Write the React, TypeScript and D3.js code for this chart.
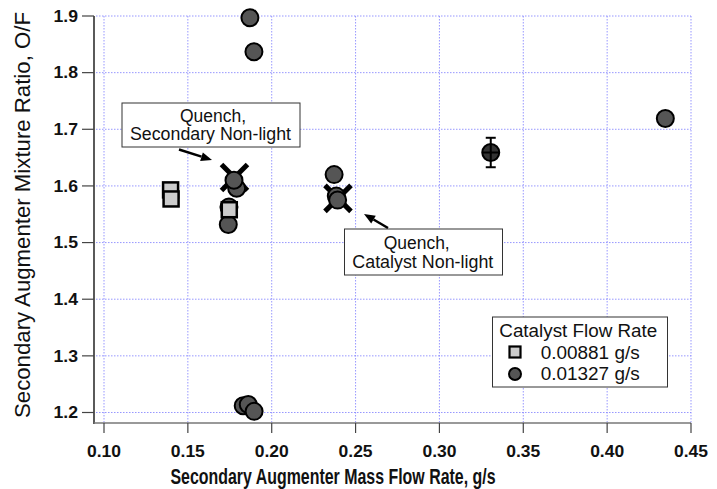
import React from "react";
import * as d3 from "d3";

const W = 717;
const H = 489;

const xTicks = [0.1, 0.15, 0.2, 0.25, 0.3, 0.35, 0.4, 0.45];
const yTicks = [1.2, 1.3, 1.4, 1.5, 1.6, 1.7, 1.8, 1.9];

// Catalyst flow 0.00881 g/s (squares)
const sqX = [0.1397, 0.14, 0.1747];
const sqY = [1.593, 1.577, 1.558];

// Catalyst flow 0.01327 g/s (circles)
const ciX = [0.187, 0.1894, 0.1791, 0.1775, 0.1745, 0.1741, 0.2372, 0.2385, 0.2393, 0.4347, 0.183, 0.186, 0.1895];
const ciY = [1.897, 1.837, 1.596, 1.61, 1.563, 1.532, 1.62, 1.582, 1.575, 1.719, 1.212, 1.214, 1.202];

// point with error bar
const ebX = [0.3306];
const ebY = [1.659];
const ebErr = [0.026];

// quench (non-light) markers
const qX = [0.1778, 0.2395];
const qY = [1.615, 1.578];

export default function App() {
  const x = d3.scaleLinear().domain([0.1, 0.45]).range([104, 691]);
  const y = d3.scaleLinear().domain([1.2, 1.9]).range([412.5, 16]);
  const grid = "#7f7fff";
  const font = "'Liberation Sans', Arial, sans-serif";
  const axY = 423;
  const axX = 94;

  const arrow = (x1: number, y1: number, x2: number, y2: number, key: string) => {
    const ang = Math.atan2(y2 - y1, x2 - x1);
    const hl = 11, hw = 4.5;
    const bx = x2 - hl * Math.cos(ang), by = y2 - hl * Math.sin(ang);
    const px = -Math.sin(ang) * hw, py = Math.cos(ang) * hw;
    return (
      <g key={key}>
        <line x1={x1} y1={y1} x2={bx} y2={by} stroke="#000" strokeWidth={2.5} />
        <path d={`M${x2},${y2}L${bx + px},${by + py}L${bx - px},${by - py}Z`} fill="#000" />
      </g>
    );
  };

  const T = (props: any) => <text lengthAdjust="spacingAndGlyphs" fill="#111" {...props} />;

  return (
    <svg width={W} height={H} style={{ position: "absolute", left: 0, top: 0, background: "#fff" }} fontFamily={font}>
      {/* grid */}
      {xTicks.map((t) => (
        <line key={"gx" + t} x1={x(t)} x2={x(t)} y1={16} y2={axY} stroke={grid} strokeWidth={1} strokeDasharray="1.5,1.5" opacity={0.8} />
      ))}
      {yTicks.map((t) => (
        <line key={"gy" + t} x1={axX + 2} x2={691} y1={y(t)} y2={y(t)} stroke={grid} strokeWidth={1} strokeDasharray="1.5,1.5" opacity={0.8} />
      ))}

      {/* axes */}
      <line x1={axX} x2={axX} y1={16} y2={axY + 1} stroke="#000" strokeWidth={1.3} />
      <line x1={axX} x2={691} y1={axY} y2={axY} stroke="#777" strokeWidth={1.3} />
      {yTicks.map((t) => (
        <g key={"yt" + t}>
          <line x1={axX - 12} x2={axX} y1={y(t)} y2={y(t)} stroke="#444" strokeWidth={1.2} />
          <T x={78} y={y(t) + 5.8} textAnchor="end" fontSize={16.5} fontWeight="bold" textLength={24.5}>
            {t.toFixed(1)}
          </T>
        </g>
      ))}
      {xTicks.map((t) => (
        <g key={"xt" + t}>
          <line x1={x(t)} x2={x(t)} y1={axY} y2={axY + 10} stroke="#444" strokeWidth={1.2} />
          <T x={x(t)} y={456.5} textAnchor="middle" fontSize={16.5} fontWeight="bold" textLength={34}>
            {t.toFixed(2)}
          </T>
        </g>
      ))}

      {/* axis titles */}
      <T x={333} y={483.5} textAnchor="middle" fontSize={21.5} fontWeight="bold" textLength={325}>
        Secondary Augmenter Mass Flow Rate, g/s
      </T>
      <T transform={`translate(30,215) rotate(-90)`} textAnchor="middle" fontSize={21.5} textLength={406}>
        Secondary Augmenter Mixture Ratio, O/F
      </T>

      {/* quench X markers */}
      {qX.map((v, i) => {
        const cx = x(v), cy = y(qY[i]), s = 13;
        return (
          <g key={"q" + i}>
            <line x1={cx - s} y1={cy - s} x2={cx + s} y2={cy + s} stroke="#000" strokeWidth={5} />
            <line x1={cx + s} y1={cy - s} x2={cx - s} y2={cy + s} stroke="#000" strokeWidth={5} />
          </g>
        );
      })}

      {/* circles */}
      {ciX.map((v, i) => (
        <circle key={"c" + i} cx={x(v)} cy={y(ciY[i])} r={8.5} fill="#555" stroke="#000" strokeWidth={2} />
      ))}

      {/* error bar point */}
      {ebX.map((v, i) => {
        const cx = x(v), cy = y(ebY[i]);
        const y1 = y(ebY[i] + ebErr[i]), y2 = y(ebY[i] - ebErr[i]);
        return (
          <g key={"eb" + i}>
            <circle cx={cx} cy={cy} r={8.5} fill="#333" stroke="#000" strokeWidth={2} />
            <line x1={cx} x2={cx} y1={y1} y2={y2} stroke="#000" strokeWidth={2} />
            <line x1={cx - 5} x2={cx + 5} y1={y1} y2={y1} stroke="#000" strokeWidth={2} />
            <line x1={cx - 5} x2={cx + 5} y1={y2} y2={y2} stroke="#000" strokeWidth={2} />
            <line x1={cx - 8.5} x2={cx + 8.5} y1={cy} y2={cy} stroke="#000" strokeWidth={2} />
          </g>
        );
      })}

      {/* squares */}
      {sqX.map((v, i) => (
        <rect key={"s" + i} x={x(v) - 7.5} y={y(sqY[i]) - 7.5} width={15} height={15} fill="#ccc" stroke="#000" strokeWidth={2.5} />
      ))}

      {/* annotation 1 */}
      <rect x={122} y={103} width={178} height={44} fill="#fff" stroke="#333" strokeWidth={1} />
      <T x={213} y={121.5} textAnchor="middle" fontSize={17.5} textLength={66}>Quench,</T>
      <T x={210.5} y={140} textAnchor="middle" fontSize={17.5} textLength={161}>Secondary Non-light</T>
      {arrow(179, 149.5, 212, 160, "a1")}

      {/* annotation 2 */}
      <rect x={344.5} y={229} width={158} height={46} fill="#fff" stroke="#333" strokeWidth={1} />
      <T x={416.7} y={248.5} textAnchor="middle" fontSize={17.5} textLength={66}>Quench,</T>
      <T x={422.8} y={268} textAnchor="middle" fontSize={17.5} textLength={141}>Catalyst Non-light</T>
      {arrow(388, 228, 364, 214, "a2")}

      {/* legend */}
      <rect x={492.5} y={317} width={175} height={70} fill="#fff" stroke="#333" strokeWidth={1} />
      <T x={499.3} y={336.5} fontSize={17.5} textLength={158}>Catalyst Flow Rate</T>
      <rect x={509.5} y={346.5} width={11} height={11} fill="#ccc" stroke="#000" strokeWidth={2.2} />
      <T x={540.7} y={358.5} fontSize={17.5} textLength={99}>0.00881 g/s</T>
      <circle cx={515} cy={374} r={6} fill="#555" stroke="#000" strokeWidth={2} />
      <T x={540.7} y={379.5} fontSize={17.5} textLength={99}>0.01327 g/s</T>
    </svg>
  );
}
